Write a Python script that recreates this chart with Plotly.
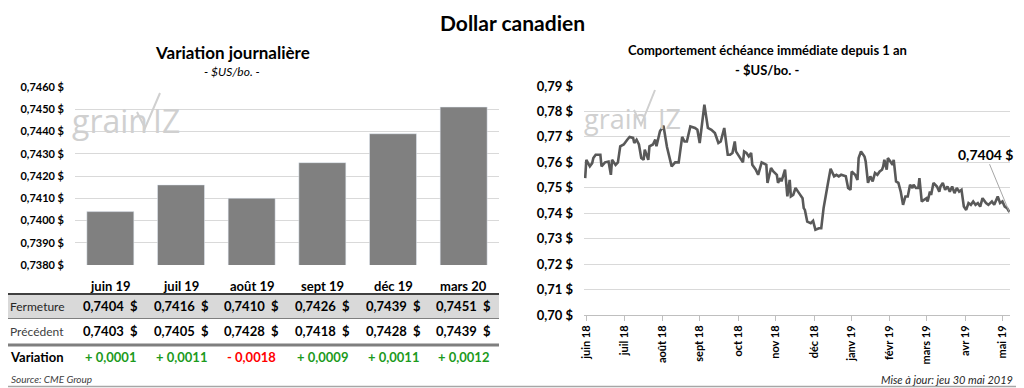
import pandas as pd
import plotly.graph_objects as go

# ---------------- Data ----------------
titre = "Dollar canadien"
echeances = ["juin 19", "juil 19", "août 19", "sept 19", "déc 19", "mars 20"]
fermeture = [0.7404, 0.7416, 0.7410, 0.7426, 0.7439, 0.7451]
precedent = [0.7403, 0.7405, 0.7428, 0.7418, 0.7428, 0.7439]
variation = [0.0001, 0.0011, -0.0018, 0.0009, 0.0011, 0.0012]
y_ticks_gauche = [0.7380, 0.7390, 0.7400, 0.7410, 0.7420, 0.7430, 0.7440, 0.7450, 0.7460]

date_debut = "2018-05-30"
jours = [1, 2, 5, 7, 8, 10, 14, 15, 18, 21, 23, 24, 27, 29, 31, 34, 37, 39, 42, 43,
         45, 47, 49, 51, 52, 55, 56, 59, 61, 62, 65, 68, 71, 75, 78, 81, 84, 86, 88, 91,
         95, 97, 99, 101, 103, 106, 109, 112, 115, 117, 120, 123, 125, 127, 129, 130, 132, 134, 136, 137,
         139, 141, 143, 144, 147, 149, 152, 156, 157, 160, 162, 165, 166, 168, 169, 172, 174, 176, 177, 179,
         181, 184, 187, 188, 189, 191, 194, 196, 198, 201, 203, 205, 207, 209, 211, 214, 216, 218, 220, 224,
         226, 228, 229, 232, 234, 235, 237, 239, 240, 241, 243, 245, 247, 249, 251, 253, 255, 256, 257, 259,
         260, 262, 264, 265, 267, 269, 271, 273, 275, 277, 279, 281, 282, 284, 286, 287, 289, 291, 293, 294,
         296, 297, 299, 302, 304, 305, 307, 309, 311, 313, 315, 317, 319, 321, 323, 325, 327, 329, 331, 333,
         335, 337, 339, 341, 344, 346, 349, 351, 354, 356, 358, 360, 362, 364]
valeurs = [0.7538, 0.7610, 0.7584, 0.7597, 0.7617, 0.7630, 0.7630, 0.7584, 0.7600, 0.7603, 0.7551, 0.7610, 0.7590, 0.7600, 0.7663, 0.7670, 0.7689, 0.7700, 0.7696, 0.7676,
           0.7689, 0.7670, 0.7617, 0.7610, 0.7650, 0.7610, 0.7663, 0.7670, 0.7689, 0.7663, 0.7722, 0.7744, 0.7660, 0.7584, 0.7600, 0.7600, 0.7700, 0.7682, 0.7682, 0.7741,
           0.7735, 0.7728, 0.7676, 0.7761, 0.7827, 0.7735, 0.7728, 0.7715, 0.7676, 0.7682, 0.7735, 0.7630, 0.7630, 0.7637, 0.7682, 0.7643, 0.7630, 0.7617, 0.7600, 0.7643,
           0.7637, 0.7623, 0.7637, 0.7590, 0.7571, 0.7551, 0.7600, 0.7590, 0.7519, 0.7578, 0.7564, 0.7551, 0.7519, 0.7538, 0.7525, 0.7571, 0.7466, 0.7531, 0.7466, 0.7472,
           0.7499, 0.7479, 0.7459, 0.7420, 0.7413, 0.7367, 0.7361, 0.7370, 0.7335, 0.7341, 0.7341, 0.7420, 0.7479, 0.7525, 0.7575, 0.7545, 0.7551, 0.7545, 0.7551, 0.7545,
           0.7499, 0.7492, 0.7564, 0.7551, 0.7531, 0.7617, 0.7643, 0.7630, 0.7623, 0.7604, 0.7519, 0.7545, 0.7525, 0.7558, 0.7551, 0.7564, 0.7571, 0.7584, 0.7610, 0.7571,
           0.7617, 0.7604, 0.7590, 0.7610, 0.7525, 0.7519, 0.7485, 0.7433, 0.7466, 0.7466, 0.7512, 0.7499, 0.7512, 0.7499, 0.7499, 0.7538, 0.7446, 0.7453, 0.7459, 0.7446,
           0.7485, 0.7472, 0.7519, 0.7505, 0.7485, 0.7505, 0.7519, 0.7492, 0.7505, 0.7485, 0.7505, 0.7479, 0.7499, 0.7485, 0.7492, 0.7426, 0.7413, 0.7440, 0.7433, 0.7446,
           0.7433, 0.7440, 0.7426, 0.7459, 0.7440, 0.7433, 0.7446, 0.7433, 0.7466, 0.7440, 0.7446, 0.7426, 0.7420, 0.7404]
y_ticks_droite = [0.70, 0.71, 0.72, 0.73, 0.74, 0.75, 0.76, 0.77, 0.78, 0.79]

mois_ticks = ["2018-06-01", "2018-07-04", "2018-08-05", "2018-09-06", "2018-10-09", "2018-11-10",
              "2018-12-13", "2019-01-14", "2019-02-15", "2019-03-19", "2019-04-21", "2019-05-23"]
mois_labels = ["juin 18", "juil 18", "août 18", "sept 18", "oct 18", "nov 18",
               "déc 18", "janv 19", "févr 19", "mars 19", "avr 19", "mai 19"]
date_maj = "Mise à jour: jeu 30 mai 2019"
source = "Source: CME Group"

assert len(jours) == len(valeurs)

# ---------------- Build ----------------
OFF = 8                      # default browser body margin of the html page
W, H = 1024 - OFF, 388 - OFF  # figure size so that the page fits the 1024x388 window
FONT = "Lato, 'Open Sans', sans-serif"
GRID = "#d9d9d9"


def xp(px):
    return (px - OFF) / W


def yp(px):
    return 1 - (px - OFF) / H


def fmt(v, d=4):
    return f"{v:.{d}f}".replace(".", ",")


dates = pd.Timestamp(date_debut) + pd.to_timedelta(jours, unit="D")

fig = go.Figure()
fig.add_trace(go.Bar(x=echeances, y=fermeture, marker_color="#808080",
                     xaxis="x", yaxis="y", showlegend=False))
fig.add_trace(go.Scatter(x=dates, y=valeurs, mode="lines",
                         line=dict(color="#595959", width=2.6),
                         xaxis="x2", yaxis="y2", showlegend=False))

ann = []
shapes = []


def txt(text, x, y, size, color="#000", xanchor="center", xref="paper", family=None):
    f = dict(size=size, color=color)
    if family:
        f["family"] = family
    ann.append(dict(text=text, x=x, y=y, xref=xref, yref="paper", xanchor=xanchor,
                    yanchor="middle", showarrow=False, font=f))


# Titles
txt(f"<b>{titre}</b>", xp(512), yp(22), 21)
txt("<b>Variation journalière</b>", xp(232), yp(52), 17)
txt("<i>- $US/bo. -</i>", xp(232), yp(72), 12)
txt("<b>Comportement échéance immédiate depuis 1 an</b>", xp(767), yp(50), 13)
txt("<b>- $US/bo. -</b>", xp(767), yp(70), 13)

# Table
shapes.append(dict(type="rect", xref="paper", yref="paper", x0=xp(8), x1=xp(499),
                   y0=yp(318), y1=yp(294), fillcolor="#d9d9d9", line=dict(width=0), layer="below"))
shapes.append(dict(type="line", xref="paper", yref="paper", x0=xp(8), x1=xp(499),
                   y0=yp(294), y1=yp(294), line=dict(color="#404040", width=2)))
shapes.append(dict(type="line", xref="paper", yref="paper", x0=xp(8), x1=xp(499),
                   y0=yp(318.5), y1=yp(318.5), line=dict(color="#7f7f7f", width=1)))
shapes.append(dict(type="line", xref="paper", yref="paper", x0=xp(8), x1=xp(499),
                   y0=yp(345), y1=yp(345), line=dict(color="#7f7f7f", width=3)))

txt("Fermeture", xp(8), yp(306), 12, "#262626", "left")
txt("Précédent", xp(8), yp(331), 12, "#404040", "left")
txt("<b>Variation</b>", xp(8), yp(357), 13, "#000", "left")

for cat, f, p, d in zip(echeances, fermeture, precedent, variation):
    txt(f"<b>{cat}</b>", cat, yp(286), 13, xref="x")
    txt(f"<b>{fmt(f)}  $</b>", cat, yp(306), 13, xref="x")
    txt(f"<b>{fmt(p)}  $</b>", cat, yp(331), 13, xref="x")
    sign = "+" if d >= 0 else "-"
    col = "#1c9a1c" if d >= 0 else "#ff0000"
    txt(f"<b>{sign} {fmt(abs(d))}</b>", cat, yp(357), 13, col, xref="x")

txt(f"<i>{source}</i>", xp(9), yp(379), 10, "#404040", "left")
txt(f"<i>{date_maj}</i>", xp(1015), yp(379), 11, "#262626", "right")

# Last value label
ann.append(dict(text=f"<b>{fmt(valeurs[-1])} $</b>", x=dates[-1], y=valeurs[-1], xref="x2", yref="y2",
                showarrow=True, arrowhead=0, arrowwidth=1, arrowcolor="#a6a6a6",
                ax=-24, ay=-58, font=dict(size=14, color="#000")))

# Watermarks
WM = "#d0d0d0"
WMF = "'Open Sans', sans-serif"
for (gx, ix, vx0, vx1, vx2, vytop, vybot, vyhi, ty, sz) in [
        (70, 151, 137, 145, 160, 112, 128, 93, 120, 32),
        (582, 656, 634, 641, 655, 110, 125, 90, 118, 27)]:
    txt("grain", xp(gx), yp(ty), sz, WM, "left", family=WMF)
    txt("IZ", xp(ix), yp(ty), sz, WM, "left", family=WMF)
    shapes.append(dict(type="path", xref="paper", yref="paper",
                       path=f"M {xp(vx0)},{yp(vytop)} L {xp(vx1)},{yp(vybot)} L {xp(vx2)},{yp(vyhi)}",
                       line=dict(color=WM, width=2)))

# Frame (right and bottom edges; left/top fall in the page margin)
shapes.append(dict(type="line", xref="paper", yref="paper", x0=xp(1022.5), x1=xp(1022.5),
                   y0=yp(387), y1=yp(8), line=dict(color="#a6a6a6", width=1.5)))
shapes.append(dict(type="line", xref="paper", yref="paper", x0=xp(8), x1=xp(1023),
                   y0=yp(386.5), y1=yp(386.5), line=dict(color="#a6a6a6", width=1.5)))

fig.update_layout(
    width=W, height=H, autosize=False,
    margin=dict(l=0, r=0, t=0, b=0, pad=0, autoexpand=False),
    paper_bgcolor="white", plot_bgcolor="white",
    font=dict(family=FONT, color="#000"),
    separators=", ",
    bargap=0.335,
    xaxis=dict(domain=[xp(75), xp(499)], anchor="y", showticklabels=False, showgrid=False,
               showline=False, ticks="", zeroline=False, automargin=False),
    yaxis=dict(domain=[yp(265), yp(87)], anchor="x", range=[0.738, 0.746],
               tickvals=y_ticks_gauche, ticktext=[f"<b>{fmt(v)} $</b>" for v in y_ticks_gauche],
               showgrid=True, gridcolor=GRID, gridwidth=1,
               zeroline=False, showline=False, ticklabelstandoff=10, automargin=False,
               tickfont=dict(size=11, color="#000", family=FONT)),
    xaxis2=dict(domain=[xp(584), xp(1010)], anchor="y2", type="date",
                range=[pd.Timestamp(date_debut), dates[-1] + pd.Timedelta(days=0.5)],
                tickvals=mois_ticks, ticktext=[f"<b>{t}</b>" for t in mois_labels],
                tickangle=-90, showgrid=False, showline=True, linecolor="#bfbfbf", linewidth=1,
                ticks="outside", ticklen=5, tickcolor="#bfbfbf", automargin=False,
                tickfont=dict(size=11, color="#000", family=FONT), zeroline=False),
    yaxis2=dict(domain=[yp(315), yp(86)], anchor="x2", range=[0.70, 0.79],
                tickvals=y_ticks_droite, ticktext=[f"<b>{fmt(v, 2)} $</b>" for v in y_ticks_droite],
                showgrid=True, gridcolor=GRID, gridwidth=1,
                zeroline=False, showline=False, ticklabelstandoff=10, automargin=False,
                tickfont=dict(size=13, color="#000", family=FONT)),
    annotations=ann, shapes=shapes,
)

fig.write_html("out.html")
